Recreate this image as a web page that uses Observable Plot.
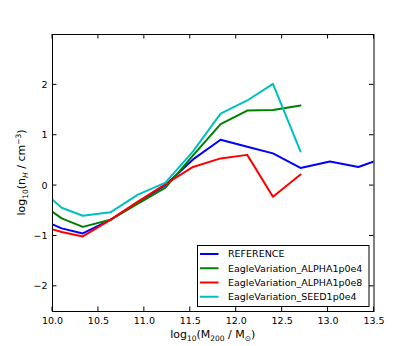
<!DOCTYPE html>
<html><head><meta charset="utf-8">
<script src="https://cdn.jsdelivr.net/npm/d3@7"></script>
<script src="https://cdn.jsdelivr.net/npm/@observablehq/plot@0.6"></script>
<style>body{margin:0;background:#fff} svg{display:block}</style>
</head><body><div id="chart"></div>
<script>
const massBins = [10.0, 10.1, 10.33, 10.63, 10.93, 11.23, 11.53, 11.83, 12.12, 12.4, 12.7, 13.02, 13.33, 13.5];
const seriesNames = ["REFERENCE", "EagleVariation_ALPHA1p0e4", "EagleVariation_ALPHA1p0e8", "EagleVariation_SEED1p0e4"];
const seriesColors = ["#0000ff", "#008000", "#ff0000", "#00bfbf"];
const reference   = [-0.77, -0.85, -0.95, -0.68, -0.33, 0.01, 0.52, 0.91, 0.77, 0.64, 0.35, 0.48, 0.37, 0.48];
const alpha1p0e4  = [-0.52, -0.65, -0.82, -0.68, -0.36, -0.04, 0.60, 1.22, 1.49, 1.50, 1.59];
const alpha1p0e8  = [-0.87, -0.92, -1.01, -0.68, -0.32, 0.03, 0.37, 0.54, 0.61, -0.22, 0.22];
const seed1p0e4   = [-0.28, -0.44, -0.60, -0.53, -0.18, 0.06, 0.68, 1.43, 1.69, 2.02, 0.68];
const xTicks = [10.0, 10.5, 11.0, 11.5, 12.0, 12.5, 13.0, 13.5];
const yTicks = [-2, -1, 0, 1, 2];

const allSeries = [reference, alpha1p0e4, alpha1p0e8, seed1p0e4];
const rows = allSeries.flatMap((vals, i) => vals.map((v, j) => ({x: massBins[j], y: v, s: seriesNames[i]})));

const W = 415, H = 346;
const mL = 52, mR = 41.5, mT = 34, mB = 35;
const fmtY = d => d < 0 ? "\u2212" + Math.abs(d) : String(d);

const chart = Plot.plot({
  width: W, height: H,
  marginLeft: mL, marginRight: mR, marginTop: mT, marginBottom: mB,
  style: {fontFamily: "DejaVu Sans", fontSize: "9.5px", background: "white", color: "black"},
  x: {domain: [10, 13.5]},
  y: {domain: [-2.5, 3]},
  color: {domain: seriesNames, range: seriesColors},
  marks: [
    Plot.line(rows, {x: "x", y: "y", z: "s", stroke: "s", strokeWidth: 2, clip: true}),
    Plot.axisX(xTicks, {anchor: "bottom", tickSize: 0, tickPadding: 6, tickFormat: d3.format(".1f"), label: null}),
    Plot.axisY(yTicks, {anchor: "left", tickSize: 0, tickPadding: 5, tickFormat: fmtY, label: null}),
    Plot.frame({stroke: "black", strokeWidth: 1})
  ]
});
document.getElementById("chart").append(chart);

const svg = d3.select(chart);
const sx = chart.scale("x"), sy = chart.scale("y");
const x0 = mL, x1 = W - mR, y0 = mT, y1 = H - mB, tl = 4.5;
// inward ticks on all four sides
const tg = svg.append("g").attr("stroke", "black").attr("stroke-width", 1);
xTicks.forEach(v => {
  const px = sx.apply(v);
  tg.append("line").attr("x1", px).attr("x2", px).attr("y1", y1).attr("y2", y1 - tl);
  tg.append("line").attr("x1", px).attr("x2", px).attr("y1", y0).attr("y2", y0 + tl);
});
yTicks.forEach(v => {
  const py = sy.apply(v);
  tg.append("line").attr("y1", py).attr("y2", py).attr("x1", x0).attr("x2", x0 + tl);
  tg.append("line").attr("y1", py).attr("y2", py).attr("x1", x1).attr("x2", x1 - tl);
});

// axis labels
const xl = svg.append("text").attr("x", mL + (W - mL - mR) / 2).attr("y", 338)
  .attr("text-anchor", "middle").style("font-size", "11px").style("font-family", "DejaVu Sans");
xl.append("tspan").text("log");
xl.append("tspan").attr("dy", 2.5).style("font-size", "7.5px").text("10");
xl.append("tspan").attr("dy", -2.5).text("(M");
xl.append("tspan").attr("dy", 2.5).style("font-size", "7.5px").text("200");
xl.append("tspan").attr("dy", -2.5).text(" / M");
xl.append("tspan").attr("dy", 2.5).style("font-size", "7.5px").text("\u2299");
xl.append("tspan").attr("dy", -2.5).text(")");

const yl = svg.append("text").attr("transform", `translate(25,${mT + (H - mT - mB) / 2}) rotate(-90)`)
  .attr("text-anchor", "middle").style("font-size", "11px").style("font-family", "DejaVu Sans");
yl.append("tspan").text("log");
yl.append("tspan").attr("dy", 2.5).style("font-size", "7.5px").text("10");
yl.append("tspan").attr("dy", -2.5).text("(n");
yl.append("tspan").attr("dy", 2.5).style("font-size", "7.5px").style("font-style", "italic").text("H");
yl.append("tspan").attr("dy", -2.5).text(" / cm");
yl.append("tspan").attr("dy", -4).style("font-size", "7.5px").text("\u22123");
yl.append("tspan").attr("dy", 4).text(")");

// legend
const lg = svg.append("g");
lg.append("rect").attr("x", 197.5).attr("y", 245.5).attr("width", 171.5).attr("height", 61)
  .attr("fill", "white").attr("stroke", "black").attr("stroke-width", 1);
seriesNames.forEach((name, i) => {
  const cy = 254 + i * 14.25;
  lg.append("line").attr("x1", 200).attr("x2", 218.5).attr("y1", cy).attr("y2", cy)
    .attr("stroke", seriesColors[i]).attr("stroke-width", 2);
  lg.append("text").attr("x", 228).attr("y", cy).attr("dy", "0.35em").attr("text-anchor", "start")
    .style("font-size", "9.5px").style("font-family", "DejaVu Sans").text(name);
});
</script>
</body></html>
